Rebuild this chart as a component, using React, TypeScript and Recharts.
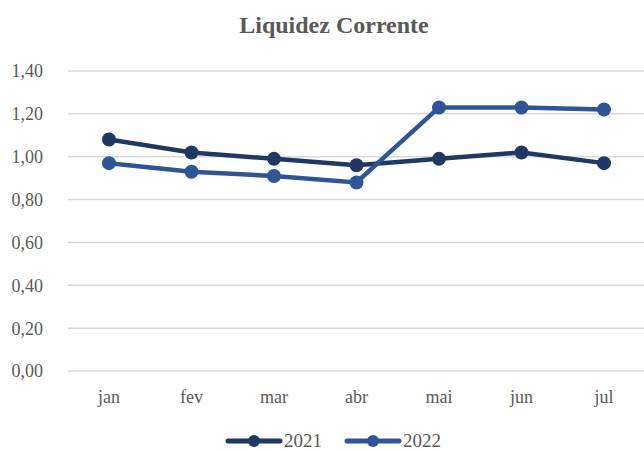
import { LineChart, Line, XAxis, YAxis, CartesianGrid, Legend } from 'recharts';

const months = ['jan', 'fev', 'mar', 'abr', 'mai', 'jun', 'jul'];
const values2021 = [1.08, 1.02, 0.99, 0.96, 0.99, 1.02, 0.97];
const values2022 = [0.97, 0.93, 0.91, 0.88, 1.23, 1.23, 1.22];
const yTicks = [0, 0.2, 0.4, 0.6, 0.8, 1.0, 1.2, 1.4];

const FONT = '"Liberation Serif", "DejaVu Serif", serif';
const GRAY = '#595959';
const COLOR_2021 = '#203864';
const COLOR_2022 = '#2F5597';

const data = months.map((m, i) => ({
  month: m,
  y2021: values2021[i],
  y2022: values2022[i],
}));

const formatTick = (v: number) => v.toFixed(2).replace('.', ',');

function LegendContent() {
  const items = [
    { label: '2021', color: COLOR_2021 },
    { label: '2022', color: COLOR_2022 },
  ];
  return (
    <div style={{ display: 'flex', justifyContent: 'center', gap: 22, paddingLeft: 22, paddingTop: 3 }}>
      {items.map((it) => (
        <div key={it.label} style={{ display: 'flex', alignItems: 'center' }}>
          <svg width={58} height={16} style={{ marginRight: 1 }}>
            <line x1={3} y1={8} x2={55} y2={8} stroke={it.color} strokeWidth={5} strokeLinecap="round" />
            <circle cx={29} cy={8} r={6} fill={it.color} />
          </svg>
          <span style={{ fontFamily: FONT, fontSize: 19, color: GRAY, lineHeight: '18px' }}>{it.label}</span>
        </div>
      ))}
    </div>
  );
}

export default function App() {
  return (
    <div style={{ position: 'absolute', top: 0, left: 0, width: 644, height: 451, background: '#fff' }}>
      <div
        style={{
          position: 'absolute',
          top: 12,
          left: 0,
          width: 668,
          textAlign: 'center',
          fontFamily: FONT,
          fontWeight: 'bold',
          fontSize: 24,
          color: GRAY,
        }}
      >
        Liquidez Corrente
      </div>
      <LineChart width={644} height={451} data={data} margin={{ top: 71, right: 0, left: 0, bottom: 0 }}>
        <CartesianGrid vertical={false} stroke="#d9d9d9" strokeWidth={1.5} />
        <XAxis
          dataKey="month"
          axisLine={false}
          tickLine={false}
          tickMargin={13}
          height={58}
          tick={{ fill: GRAY, fontFamily: FONT, fontSize: 18 }}
          padding={{ left: 41, right: 40 }}
        />
        <YAxis
          width={68}
          domain={[0, 1.4]}
          ticks={yTicks}
          tickFormatter={formatTick}
          axisLine={false}
          tickLine={false}
          tickMargin={19}
          tick={{ fill: GRAY, fontFamily: FONT, fontSize: 18 }}
        />
        <Legend verticalAlign="bottom" height={22} content={<LegendContent />} />
        <Line
          dataKey="y2021"
          name="2021"
          stroke={COLOR_2021}
          strokeWidth={4.5}
          dot={{ r: 7, fill: COLOR_2021, stroke: COLOR_2021, strokeWidth: 0 }}
          isAnimationActive={false}
        />
        <Line
          dataKey="y2022"
          name="2022"
          stroke={COLOR_2022}
          strokeWidth={4.5}
          dot={{ r: 7, fill: COLOR_2022, stroke: COLOR_2022, strokeWidth: 0 }}
          isAnimationActive={false}
        />
      </LineChart>
    </div>
  );
}
